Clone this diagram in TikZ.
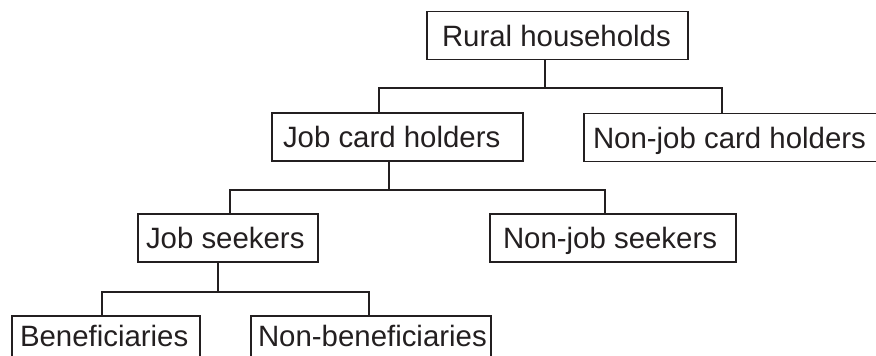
\documentclass[tikz,border=0pt]{standalone}
\usepackage{fontspec}
\setmainfont{Liberation Sans}
\definecolor{ink}{HTML}{231F20}
\tikzset{
  box/.style={draw=ink, line width=1.6pt, text=ink, font=\fontsize{29.4}{32}\selectfont,
    text height=21pt, text depth=0pt, inner ysep=13.5pt, inner xsep=#1, outer sep=0pt},
  lowbox/.style={box=#1, text depth=13pt, inner ysep=9pt},
  conn/.style={draw=ink, line width=1.6pt}
}
\begin{document}
\begin{tikzpicture}[x=1pt,y=-1pt]
\useasboundingbox (0,0) rectangle (876,356);
\clip (0,0) rectangle (876,356);
% boxes
\node[box=15pt]  (R)   at (557.5,35.5) {\makebox[231pt][l]{Rural households}};
\node[box=11pt]  (JC)  at (397.5,137)  {\makebox[229pt][l]{Job card holders}};
\node[box=9pt]   (NJC) at (734,137.5)  {\makebox[282pt][l]{Non-job card holders}};
\node[box=8pt]   (JS)  at (228,238)    {\makebox[164pt][l]{Job seekers}};
\node[box=13pt]  (NJS) at (613,238)    {\makebox[220pt][l]{Non-job seekers}};
\node[lowbox=8pt] (B)  at (106,342)    {\makebox[172pt][l]{Beneficiaries}};
\node[lowbox=7pt] (NB) at (371,342)    {\makebox[226pt][l]{Non-beneficiaries}};
% bus coordinates
\coordinate (b1)  at (545,88);
\coordinate (b1l) at (379,88);
\coordinate (b1r) at (722,88);
\coordinate (b2)  at (389,190);
\coordinate (b2l) at (230,190);
\coordinate (b2r) at (605,190);
\coordinate (b3)  at (218,292);
\coordinate (b3l) at (102,292);
\coordinate (b3r) at (369,292);
% connectors
\draw[conn] (R.south -| b1) -- (b1);
\draw[conn] (JC.north -| b1l) -- (b1l) -- (b1r) -- (NJC.north -| b1r);
\draw[conn] (JC.south -| b2) -- (b2);
\draw[conn] (JS.north -| b2l) -- (b2l) -- (b2r) -- (NJS.north -| b2r);
\draw[conn] (JS.south -| b3) -- (b3);
\draw[conn] (B.north -| b3l) -- (b3l) -- (b3r) -- (NB.north -| b3r);
\end{tikzpicture}
\end{document}
